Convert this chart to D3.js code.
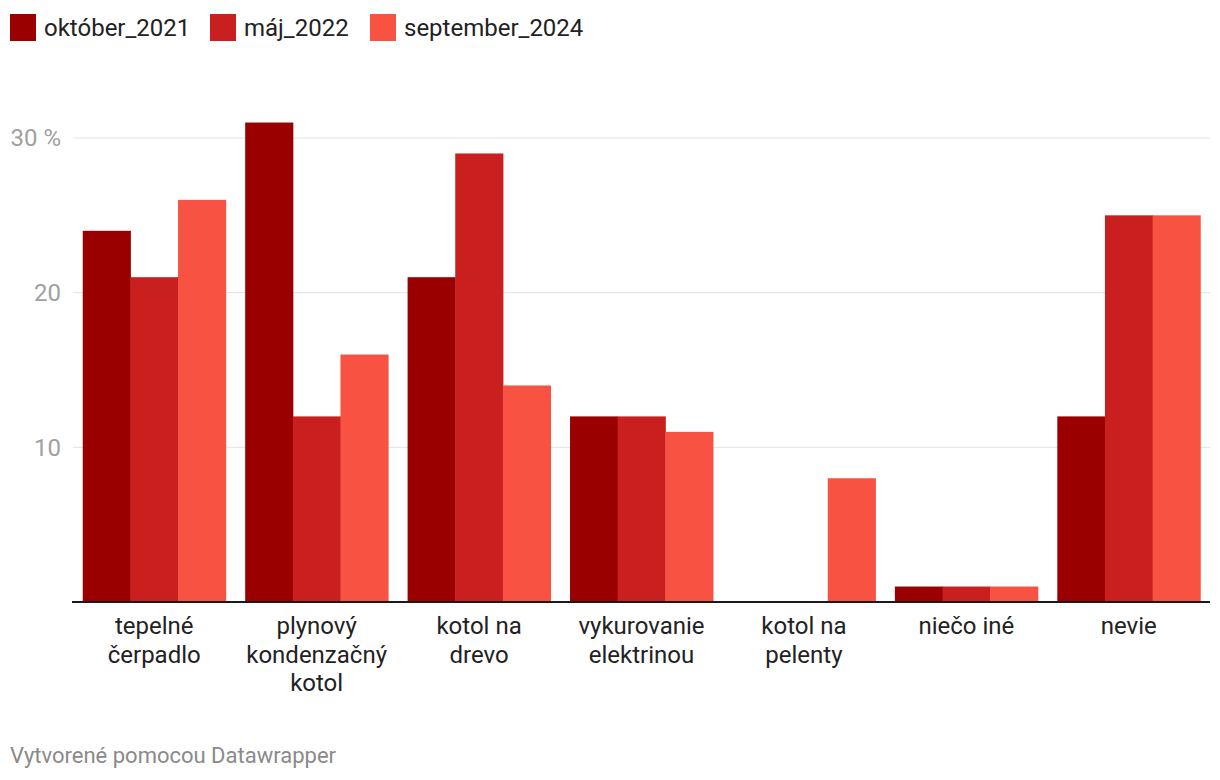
<!DOCTYPE html>
<html><head><meta charset="utf-8">
<script src="https://cdn.jsdelivr.net/npm/d3@7"></script>
<style>
body{margin:0;background:#fff;font-family:Roboto,"Noto Sans",sans-serif;}
</style></head>
<body><svg id="c" width="1220" height="780"></svg>
<script>
const categories = [["tepelné","čerpadlo"],["plynový","kondenzačný","kotol"],["kotol na","drevo"],["vykurovanie","elektrinou"],["kotol na","pelenty"],["niečo iné"],["nevie"]];
const seriesNames = ["október_2021","máj_2022","september_2024"];
const okt2021 = [24,31,21,12,0,1,12];
const maj2022 = [21,12,29,12,0,1,25];
const sep2024 = [26,16,14,11,8,1,25];
const seriesValues = [okt2021, maj2022, sep2024];
const colors = ["#9a0000","#c91f1f","#f75242"];
const yTicks = [10,20,30];

(function(){
const svg = d3.select("#c");
const mLeft = 72, mRight = 1210, mTop = 138, mBottom = 602;
const y = d3.scaleLinear().domain([0,30]).range([mBottom, mTop]);
const catKeys = categories.map(c=>c.join(" "));
const x0 = d3.scaleBand().domain(catKeys).range([mLeft+1,mRight]).paddingInner(0.12).paddingOuter(0.06);
const x1 = d3.scaleBand().domain(seriesNames).range([0,x0.bandwidth()]);

svg.append("g").selectAll("line").data(yTicks).join("line")
  .attr("x1",mLeft+1).attr("x2",mRight).attr("y1",d=>y(d)).attr("y2",d=>y(d))
  .attr("stroke","#e3e3e3").attr("stroke-width",1);
svg.append("g").selectAll("text").data(yTicks).join("text")
  .attr("x",61).attr("y",d=>y(d)).attr("dy","0.35em").attr("text-anchor","end")
  .attr("font-size",24).attr("fill","#a0a0a0").text(d=>d===30?"30 %":d);

const g = svg.append("g");
catKeys.forEach((c,i)=>{
  seriesNames.forEach((s,j)=>{
    const v = seriesValues[j][i];
    g.append("rect").attr("x",x0(c)+x1(s)).attr("width",x1.bandwidth()+0.5)
      .attr("y",y(v)).attr("height",y(0)-y(v)).attr("fill",colors[j]);
  });
});

svg.append("line").attr("x1",mLeft).attr("x2",mRight).attr("y1",y(0)).attr("y2",y(0))
  .attr("stroke","#1a1a1a").attr("stroke-width",2);

const xl = svg.append("g");
categories.forEach((lines,i)=>{
  const cx = x0(catKeys[i]) + x0.bandwidth()/2;
  const t = xl.append("text").attr("x",cx).attr("y",634).attr("text-anchor","middle")
    .attr("font-size",24).attr("fill","#222");
  lines.forEach((l,k)=>t.append("tspan").attr("x",cx).attr("dy",k===0?0:28.5).text(l));
});

const lg = svg.append("g");
const legX = [10,210,370];
seriesNames.forEach((s,i)=>{
  lg.append("rect").attr("x",legX[i]).attr("y",14).attr("width",26).attr("height",27).attr("fill",colors[i]);
  lg.append("text").attr("x",legX[i]+34).attr("y",27.5).attr("dy","0.35em")
    .attr("font-size",24).attr("fill","#222").text(s);
});

svg.append("text").attr("x",10).attr("y",755).attr("dy","0.35em").attr("font-size",22)
  .attr("fill","#8a8a8a").text("Vytvorené pomocou Datawrapper");
})();
</script></body></html>
